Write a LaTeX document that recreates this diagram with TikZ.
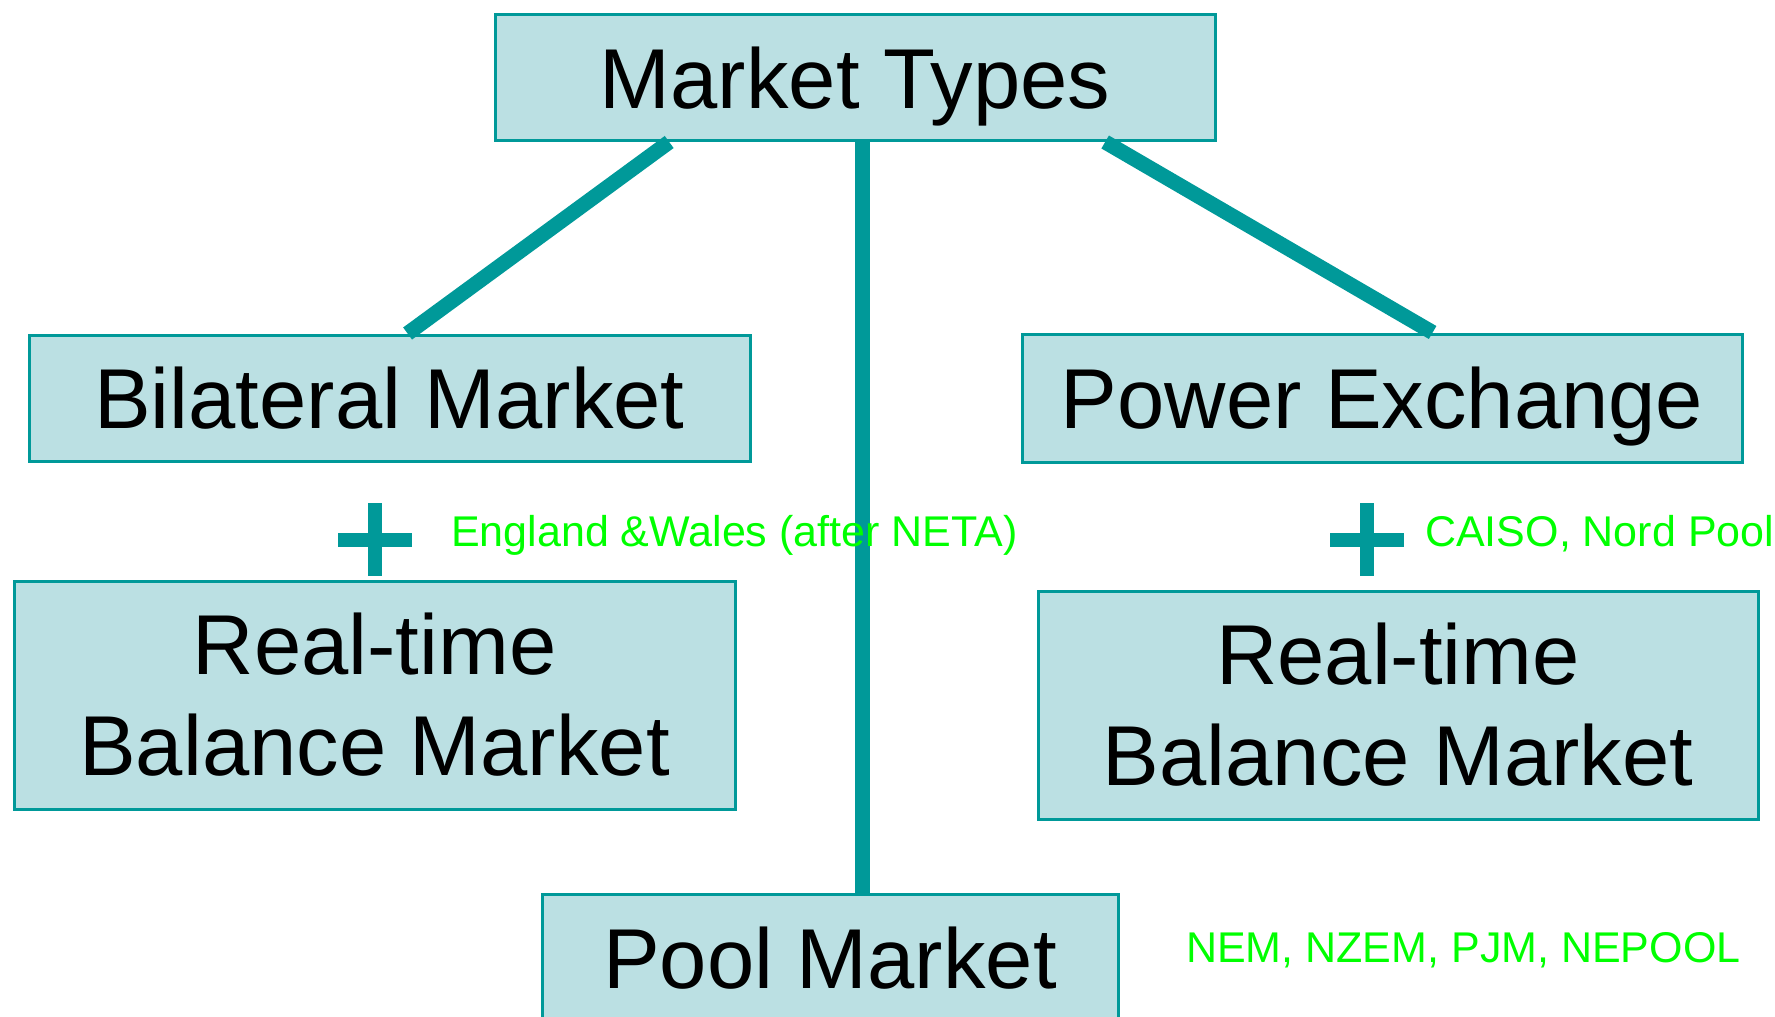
\documentclass[tikz,border=0pt]{standalone}
\usepackage{fontspec}
\setmainfont{Liberation Sans}
\usetikzlibrary{calc}
\definecolor{tealline}{HTML}{009999}
\definecolor{boxfill}{HTML}{BBE0E3}
\definecolor{notegreen}{HTML}{00FF00}
\newcommand\mtbigfont{\fontsize{85}{101}\selectfont}
\newcommand\mtsmallfont{\fontsize{43}{50}\selectfont}
\tikzset{
  typebox/.style={draw=tealline, fill=boxfill, line width=3pt, inner sep=0pt,
    font=\mtbigfont, align=center},
  oneline/.style={text height=61pt, text depth=0pt},
  link/.style={draw=tealline, line width=15pt},
  plussign/.style={draw=tealline, line width=14pt},
  note/.style={text=notegreen, font=\mtsmallfont, inner sep=0pt, anchor=base west}
}
\begin{document}
\begin{tikzpicture}[x=1pt,y=-1pt]
\useasboundingbox (0,0) rectangle (1775,1017);
\clip (0,0) rectangle (1775,1017);

\node[typebox, oneline, minimum width=720pt, minimum height=126pt] (mt) at (855,77.5) {Market Types};
\node[typebox, oneline, minimum width=721pt, minimum height=126pt] (bm) at (389.5,398) {Bilateral Market};
\node[typebox, oneline, minimum width=720pt, minimum height=128pt] (pe) at (1382,398) {Power Exchange};
\node[typebox, minimum width=721pt, minimum height=228pt] (rtl) at (374.5,695) {Real-time\\Balance Market};
\node[typebox, minimum width=720pt, minimum height=228pt] (rtr) at (1398,705) {Real-time\\Balance Market};
\node[typebox, oneline, minimum width=576pt, minimum height=128pt] (pool) at (830,958) {Pool Market};

% connectors
\coordinate (mtl) at ($(mt.south west)!0.243!(mt.south east)$);
\coordinate (mtm) at ($(mt.south west)!0.51!(mt.south east)$);
\coordinate (mtr) at ($(mt.south west)!0.846!(mt.south east)$);
\coordinate (bmt) at ($(bm.north west)!0.525!(bm.north east)$);
\coordinate (pet) at ($(pe.north west)!0.57!(pe.north east)$);
\draw[link] (mtl) -- (bmt);
\draw[link] (mtr) -- (pet);
\draw[link] (mtm) -- (mtm |- pool.north);

% plus signs
\draw[plussign] (338,540) -- (412,540) (375,503) -- (375,576);
\draw[plussign] (1330,540) -- (1404,540) (1367,503) -- (1367,576);

% notes
\node[note] (n1) at (451,546) {England \&Wales (after NETA)};
\node[note] (n2) at (1425,546) {CAISO, Nord Pool};
\node[note] (n3) at (1186,962) {NEM, NZEM, PJM, NEPOOL};
\end{tikzpicture}
\end{document}
